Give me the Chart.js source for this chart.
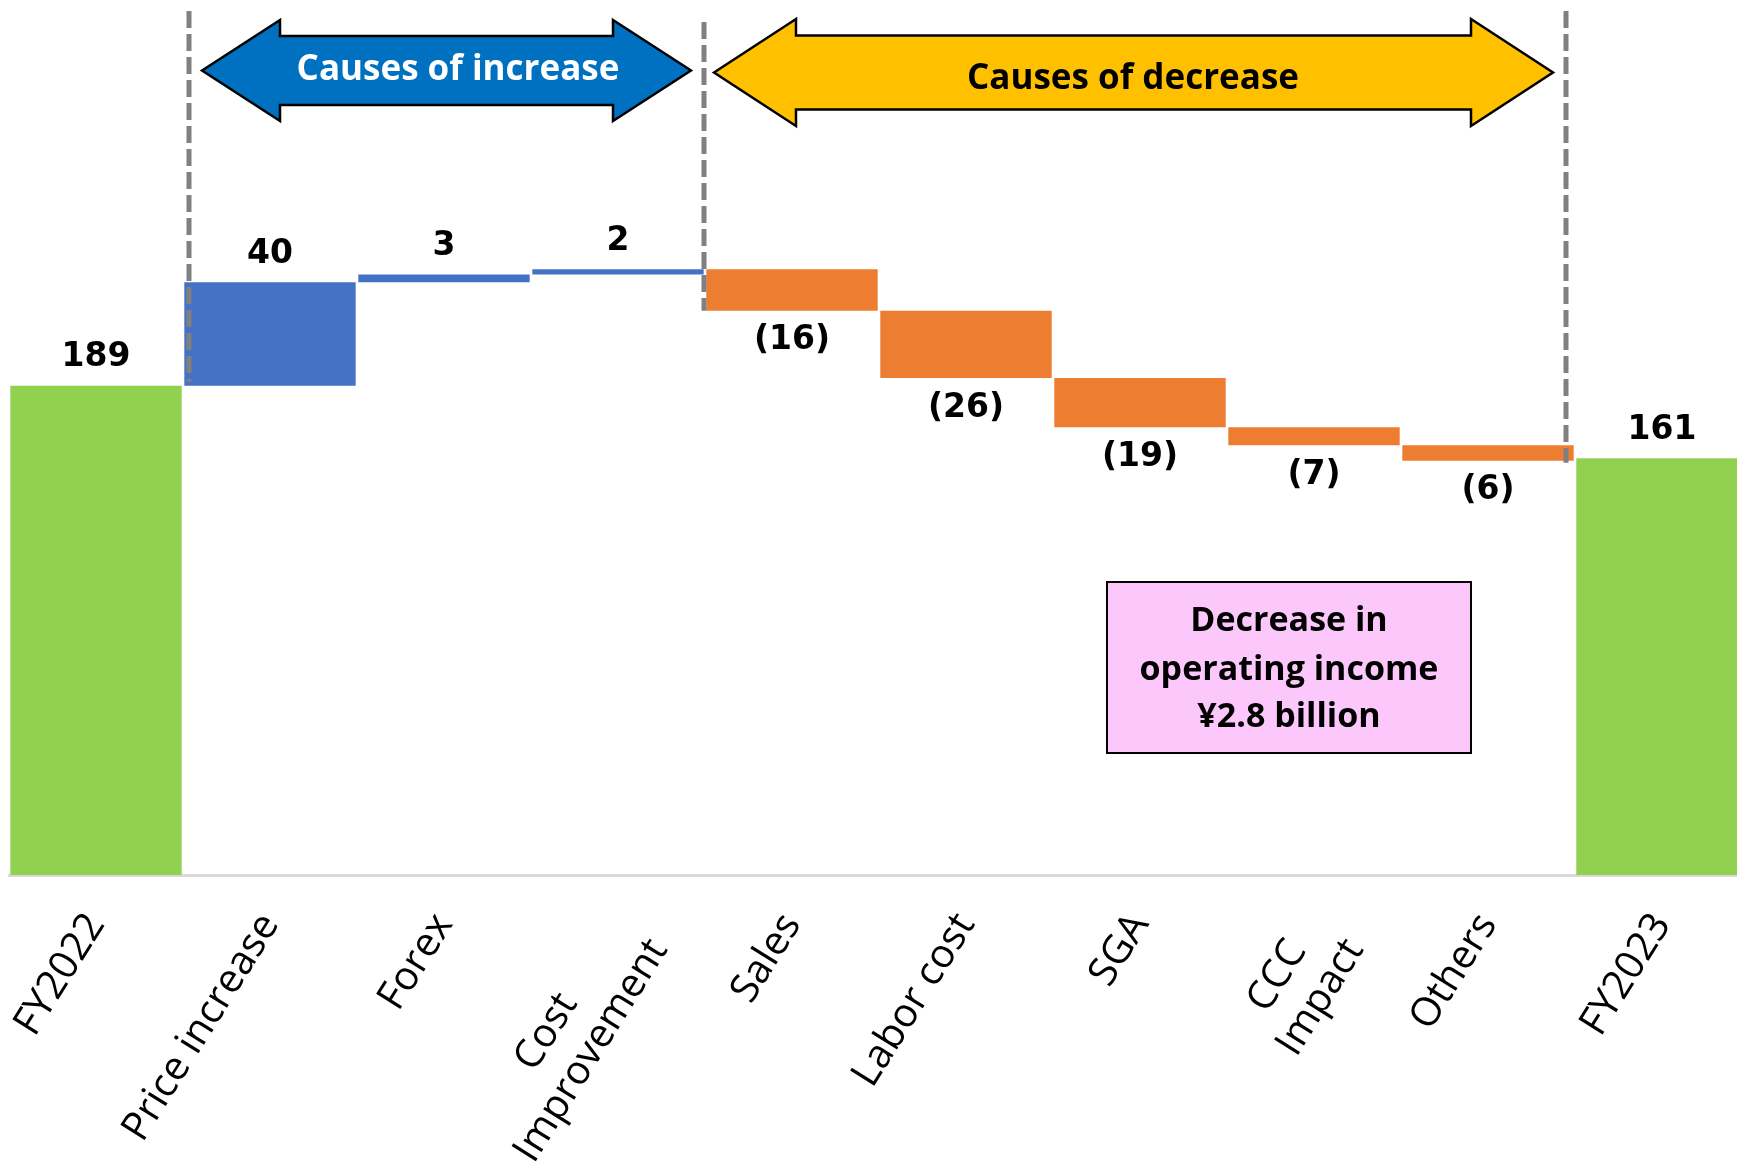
<!DOCTYPE html>
<html>
<head>
<meta charset="utf-8">
<script src="https://cdn.jsdelivr.net/npm/chart.js@4.4.0/dist/chart.umd.min.js"></script>
<style>
html, body { margin: 0; padding: 0; background: #fff; overflow: hidden; }
</style>
</head>
<body>
<canvas id="chart" width="1752" height="1168"></canvas>
<script>
// two-line labels are padded with nbsp so the short line sits centred over the long one
var NB = '\u00a0';
var categories = ['FY2022', 'Price increase', 'Forex', ['Cost' + NB.repeat(9), 'Improvement'], 'Sales',
                  'Labor cost', 'SGA', ['CCC' + NB.repeat(3), 'Impact'], 'Others', 'FY2023'];
var startValue = 189;
var changes = [40, 3, 2, -16, -26, -19, -7, -6];
var endValue = 161;

var totalColor = '#92D050';
var upColor = '#4472C4';
var downColor = '#ED7D31';

// floating bars for the waterfall
var ranges = [[0, startValue]];
var level = startValue;
changes.forEach(function(c) {
    ranges.push([level, level + c]);
    level += c;
});
ranges.push([0, endValue]);

var valueLabels = [String(startValue)].concat(changes.map(function(c) {
    return c < 0 ? '(' + Math.abs(c) + ')' : String(c);
})).concat([String(endValue)]);

var barColors = ranges.map(function(r, i) {
    if (i == 0 || i == ranges.length - 1) return totalColor;
    return r[1] > r[0] ? upColor : downColor;
});

function doubleArrow(ctx, x1, x2, cy, headLen, headHalf, shaftHalf, fill) {
    ctx.beginPath();
    ctx.moveTo(x1, cy);
    ctx.lineTo(x1 + headLen, cy - headHalf);
    ctx.lineTo(x1 + headLen, cy - shaftHalf);
    ctx.lineTo(x2 - headLen, cy - shaftHalf);
    ctx.lineTo(x2 - headLen, cy - headHalf);
    ctx.lineTo(x2, cy);
    ctx.lineTo(x2 - headLen, cy + headHalf);
    ctx.lineTo(x2 - headLen, cy + shaftHalf);
    ctx.lineTo(x1 + headLen, cy + shaftHalf);
    ctx.lineTo(x1 + headLen, cy + headHalf);
    ctx.closePath();
    ctx.fillStyle = fill;
    ctx.fill();
    ctx.lineWidth = 2.5;
    ctx.strokeStyle = '#000';
    ctx.stroke();
}

var decorPlugin = {
    id: 'decor',
    afterDatasetsDraw: function(chart) {
        var ctx = chart.ctx;
        var xs = chart.scales.x, ys = chart.scales.y;
        var bars = chart.getDatasetMeta(0).data;
        var cat = xs.getPixelForValue(1) - xs.getPixelForValue(0);
        function edge(i) { return xs.getPixelForValue(i) - cat / 2; }

        ctx.save();

        // value labels
        ctx.font = 'bold 33px "DejaVu Sans"';
        ctx.fillStyle = '#000';
        ctx.textAlign = 'center';
        ctx.textBaseline = 'middle';
        bars.forEach(function(b, i) {
            var top = Math.min(b.y, b.base), bottom = Math.max(b.y, b.base);
            var down = ranges[i][1] < ranges[i][0];
            ctx.fillText(valueLabels[i], b.x, down ? bottom + 30 : top - 28);
        });

        // dashed separators
        ctx.setLineDash([17, 6]);
        ctx.lineWidth = 5;
        ctx.strokeStyle = '#808080';
        var seps = [
            [edge(1) + 6, 11, ys.getPixelForValue(startValue) - 4],
            [edge(4) - 1, 22, ys.getPixelForValue(ranges[4][1])],
            [edge(9) - 9, 11, ys.getPixelForValue(level) + 2]
        ];
        seps.forEach(function(s) {
            ctx.beginPath();
            ctx.moveTo(s[0], s[1]);
            ctx.lineTo(s[0], s[2]);
            ctx.stroke();
        });
        ctx.setLineDash([]);

        // arrows
        doubleArrow(ctx, edge(1) + 19, edge(4) - 14, 70.5, 78, 50.5, 34.5, '#0070C0');
        doubleArrow(ctx, edge(4) + 9, edge(9) - 22, 72.5, 82, 53.5, 37, '#FFC000');
        ctx.font = 'bold 35px "Open Sans"';
        ctx.fillStyle = '#fff';
        ctx.fillText('Causes of increase', 458, 70);
        ctx.fillStyle = '#000';
        ctx.fillText('Causes of decrease', 1133, 79);

        // note box
        ctx.fillStyle = '#FCC8FC';
        ctx.fillRect(1107, 582, 364, 171);
        ctx.lineWidth = 2;
        ctx.strokeStyle = '#000';
        ctx.strokeRect(1107, 582, 364, 171);
        ctx.fillStyle = '#000';
        ctx.font = 'bold 34px "Open Sans"';
        ctx.fillText('Decrease in', 1289, 621);
        ctx.fillText('operating income', 1289, 670);
        ctx.fillText('\u00a52.8 billion', 1289, 717);

        ctx.restore();
    }
};

function draw() {
    var ctx = document.getElementById('chart').getContext('2d');
    new Chart(ctx, {
        type: 'bar',
        data: {
            labels: categories,
            datasets: [{
                data: ranges,
                backgroundColor: barColors,
                borderWidth: 0,
                barPercentage: 0.985,
                categoryPercentage: 1
            }]
        },
        options: {
            responsive: false,
            animation: false,
            layout: { padding: { left: 9, right: 3, top: 0, bottom: 0 } },
            plugins: {
                legend: { display: false },
                tooltip: { enabled: false }
            },
            scales: {
                x: {
                    grid: { display: false, drawTicks: false },
                    border: { display: true, color: '#D9D9D9', width: 3 },
                    ticks: {
                        autoSkip: false,
                        minRotation: 58,
                        maxRotation: 58,
                        color: '#000',
                        padding: 30,
                        font: { family: 'Open Sans', size: 40 }
                    },
                    afterFit: function(scale) {
                        scale.height = 293;
                        // labels may run off the left edge, like in the original
                        scale.paddingLeft = 0;
                        scale.paddingRight = 0;
                    }
                },
                y: { display: false, min: 0, max: 338 }
            }
        },
        plugins: [decorPlugin]
    });
}

Promise.all([
    document.fonts.load('40px "Open Sans"'),
    document.fonts.load('bold 34px "Open Sans"'),
    document.fonts.load('bold 33px "DejaVu Sans"')
]).then(draw, draw);
</script>
</body>
</html>
